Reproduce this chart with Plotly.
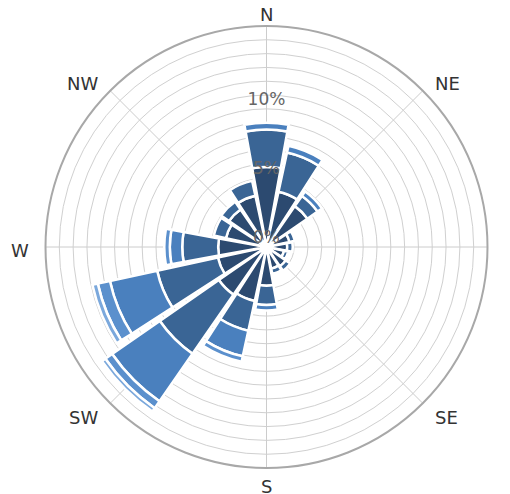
import math
import plotly.graph_objects as go

directions = ["N", "NNE", "NE", "ENE", "E", "ESE", "SE", "SSE",
              "S", "SSW", "SW", "WSW", "W", "WNW", "NW", "NNW"]
angles = [0, 22.5, 45, 67.5, 90, 112.5, 135, 157.5,
          180, 202.5, 225, 247.5, 270, 292.5, 315, 337.5]

# stacked frequency (%) per speed class
s1 = [5.8, 4.1, 3.6, 1.7, 1.5, 1.3, 1.7, 1.6, 2.8, 4.0, 4.2, 3.6, 3.5, 3.0, 3.3, 3.8]
s2 = [2.7, 2.9, 0.9, 0.4, 0.4, 0.3, 0.4, 0.4, 1.4, 2.2, 5.2, 4.5, 2.6, 0.9, 0.7, 1.1]
s3 = [0.5, 0.5, 0.4, 0.0, 0.0, 0.0, 0.0, 0.0, 0.4, 1.9, 4.2, 3.5, 0.9, 0.0, 0.0, 0.0]
s4 = [0.0, 0.0, 0.0, 0.0, 0.0, 0.0, 0.0, 0.0, 0.0, 0.4, 0.6, 0.9, 0.4, 0.0, 0.0, 0.0]
s5 = [0.0, 0.0, 0.0, 0.0, 0.0, 0.0, 0.0, 0.0, 0.0, 0.0, 0.3, 0.4, 0.0, 0.0, 0.0, 0.0]
series = [s1, s2, s3, s4, s5]
colors = ["#2c4a70", "#3a6595", "#4a80be", "#5b90cd", "#7ba8dc"]

R_MAX = 16
radial_ticks = list(range(0, R_MAX + 1))
radial_labels = [0, 5, 10]
compass_vals = [0, 45, 90, 135, 180, 225, 270, 315]
compass_text = ["N", "NE", "E", "SE", "S", "SW", "W", "NW"]

# layout geometry of the polar pane (pixels)
W, H = 510, 494
CX, CY_TOP, RAD = 258.5, 239.0, 221.0
LABEL_DIST, LABEL_SHIFT = 15.0, 3.5

fig = go.Figure()
for vals, col in zip(series, colors):
    fig.add_trace(go.Barpolar(
        r=vals, theta=angles, width=[20.5] * len(angles),
        marker=dict(color=col, line=dict(color="white", width=2.5)),
        hoverinfo="skip", showlegend=False,
    ))

fig.add_trace(go.Scatterpolar(
    r=radial_labels, theta=[0] * len(radial_labels),
    text=[f"{v}%" for v in radial_labels], mode="text",
    textposition="top center",
    textfont=dict(size=17, color="#666666", family="DejaVu Sans, Arial"),
    showlegend=False, hoverinfo="skip",
))

# compass labels placed just outside the rim, anchored by side
annotations = []
for lab, ang in zip(compass_text, compass_vals):
    s, c = math.sin(math.radians(ang)), math.cos(math.radians(ang))
    d = RAD + LABEL_DIST
    x = CX + d * s
    y_top = CY_TOP - d * c + LABEL_SHIFT
    if abs(s) < 1e-6:
        xa = "center"
    elif s > 0:
        xa = "left"
    else:
        xa = "right"
    annotations.append(dict(
        text=lab, x=x / W, y=1 - y_top / H, xref="paper", yref="paper",
        xanchor=xa, yanchor="middle", showarrow=False,
        font=dict(size=18, color="#333333", family="DejaVu Sans, Arial"),
    ))

fig.update_layout(
    width=W, height=H,
    margin=dict(l=0, r=0, t=0, b=0),
    paper_bgcolor="white",
    barmode="stack",
    font=dict(family="DejaVu Sans, Arial", size=16, color="#333333"),
    annotations=annotations,
    polar=dict(
        domain=dict(x=[(CX - RAD) / W, (CX + RAD) / W],
                    y=[1 - (CY_TOP + RAD) / H, 1 - (CY_TOP - RAD) / H]),
        bgcolor="white",
        bargap=0,
        angularaxis=dict(
            direction="clockwise", rotation=90,
            tickmode="array", tickvals=compass_vals,
            showticklabels=False, ticks="",
            showline=True, linecolor="#a8a8a8", linewidth=2,
            gridcolor="#cccccc", gridwidth=1,
        ),
        radialaxis=dict(
            range=[0, R_MAX], tickmode="array", tickvals=radial_ticks,
            showticklabels=False, ticks="", showline=False,
            gridcolor="#d0d0d0", gridwidth=1, angle=90,
        ),
    ),
)

fig.write_html("out.html")
